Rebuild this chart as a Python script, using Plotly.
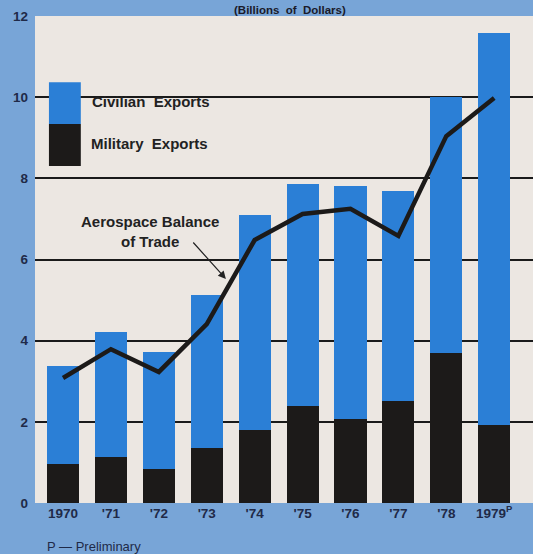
import plotly.graph_objects as go

years = ["1970", "'71", "'72", "'73", "'74", "'75", "'76", "'77", "'78", "1979<sup>P</sup>"]
total_exports = [3.38, 4.22, 3.72, 5.12, 7.09, 7.86, 7.81, 7.68, 10.0, 11.58]
military = [0.96, 1.13, 0.84, 1.35, 1.80, 2.39, 2.07, 2.51, 3.69, 1.92]
balance = [3.08, 3.79, 3.23, 4.41, 6.48, 7.12, 7.25, 6.58, 9.04, 9.98]
civilian = [round(t - m, 2) for t, m in zip(total_exports, military)]
ytick_vals = [0, 2, 4, 6, 8, 10, 12]
grid_vals = [2, 4, 6, 8, 10]

BLUE = "#2b7fd6"
BLACK = "#1c1a19"
CREAM = "#ece7e2"
OUTER = "#78a5d7"
TXT = "#1f2a48"
FONT = "Liberation Sans, Arial, sans-serif"

xs = list(range(len(years)))

fig = go.Figure()
fig.add_trace(go.Bar(x=xs, y=military, marker=dict(color=BLACK, line=dict(width=0)),
                     width=0.67, name="Military Exports"))
fig.add_trace(go.Bar(x=xs, y=civilian, marker=dict(color=BLUE, line=dict(width=0)),
                     width=0.67, name="Civilian Exports"))
fig.add_trace(go.Scatter(x=xs, y=balance, mode="lines",
                         line=dict(color=BLACK, width=4.5), name="Aerospace Balance of Trade"))
# invisible trace to host the gridline axis
fig.add_trace(go.Scatter(x=[xs[0]], y=[0], yaxis="y2", mode="markers",
                         marker=dict(opacity=0), showlegend=False, hoverinfo="skip"))

fig.update_layout(
    width=533, height=554,
    margin=dict(l=35, r=0, t=16, b=51),
    paper_bgcolor=OUTER, plot_bgcolor=CREAM,
    barmode="stack", showlegend=False,
    font=dict(family=FONT, color=TXT),
    xaxis=dict(range=[-0.585, 9.81], tickvals=xs, ticktext=["<b>%s</b>" % y for y in years],
               showgrid=False, zeroline=False, showline=False, ticks="",
               tickfont=dict(size=13.5, color=TXT, family=FONT)),
    yaxis=dict(range=[0, 12], tickvals=ytick_vals, ticktext=["<b>%d</b>" % v for v in ytick_vals],
               showgrid=False, zeroline=False,
               showline=False, ticks="", ticklabelstandoff=6,
               tickfont=dict(size=13.5, color=TXT, family=FONT)),
    yaxis2=dict(range=[0, 12], overlaying="y", tickvals=grid_vals, showgrid=True,
                gridcolor="#1a1a1a", gridwidth=2, showticklabels=False,
                zeroline=False, showline=False, ticks=""),
)

# legend block (custom)
fig.add_shape(type="rect", xref="paper", yref="y", x0=0.092, x1=0.365, y0=9.86, y1=10.14,
              fillcolor=CREAM, line=dict(width=0), layer="between")
fig.add_shape(type="rect", xref="paper", yref="paper", x0=0.028, x1=0.092, y0=0.778, y1=0.864,
              fillcolor=BLUE, line=dict(width=0), layer="above")
fig.add_shape(type="rect", xref="paper", yref="paper", x0=0.028, x1=0.092, y0=0.692, y1=0.778,
              fillcolor=BLACK, line=dict(width=0), layer="above")
fig.add_annotation(text="<b>Civilian  Exports</b>", xref="paper", yref="paper", x=0.11, y=0.824,
                   xanchor="left", yanchor="middle", showarrow=False,
                   font=dict(size=15, color="#222222", family=FONT))
fig.add_annotation(text="<b>Military  Exports</b>", xref="paper", yref="paper", x=0.108, y=0.738,
                   xanchor="left", yanchor="middle", showarrow=False,
                   font=dict(size=15, color="#222222", family=FONT))

# balance of trade label + arrow
fig.add_annotation(text="<b>Aerospace Balance<br>of Trade</b>", xref="x", yref="y", x=1.82, y=6.68,
                   xanchor="center", yanchor="middle", showarrow=False, align="center",
                   font=dict(size=15, color="#222222", family=FONT))
fig.add_annotation(text="", xref="x", yref="y", x=3.40, y=5.52, ax=-34, ay=-38,
                   showarrow=True, arrowhead=2, arrowsize=1.3, arrowwidth=1.2, arrowcolor="#222222")

# title (at top edge) and footnote
fig.add_annotation(text="<b>(Billions  of  Dollars)</b>", xref="paper", yref="paper", x=0.512, y=0.998,
                   xanchor="center", yanchor="bottom", showarrow=False, borderpad=0,
                   font=dict(size=11.5, color="#1a1a2a", family=FONT))
fig.add_annotation(text="P — Preliminary", xref="paper", yref="paper", x=0.02, y=-0.09,
                   xanchor="left", yanchor="middle", showarrow=False,
                   font=dict(size=13, color=TXT, family=FONT))

fig.write_html("out.html", config={"displayModeBar": False},
               post_script="document.body.style.margin='0';")
